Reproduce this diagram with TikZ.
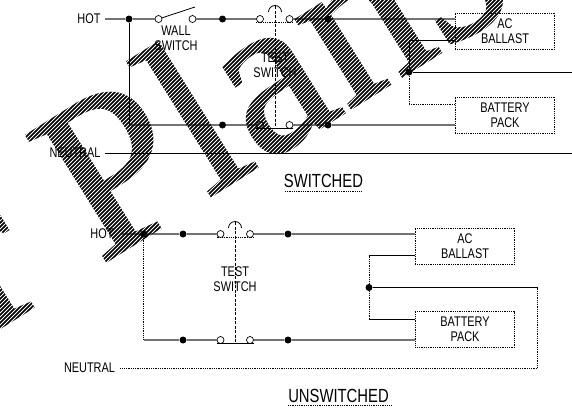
\documentclass[tikz,border=0pt]{standalone}
\usepackage{fontspec}
\setmainfont[FakeStretch=0.78]{Liberation Sans}
\newfontfamily\markfont[FakeBold=1]{Liberation Serif}
\tikzset{
  dot/.style={circle,fill=black,inner sep=0pt,minimum size=7pt},
  term/.style={circle,draw=black,fill=white,line width=0.7pt,inner sep=0pt,minimum size=7pt},
  unit/.style={draw,densely dotted,line width=0.8pt,inner sep=0pt,minimum width=99.5pt,minimum height=36pt,align=center,font=\fontsize{14}{15}\selectfont},
  lbl/.style={inner sep=0pt,align=center,font=\fontsize{14}{15.5}\selectfont},
  ttl/.style={inner sep=0pt,font=\fontsize{19}{20}\selectfont},
  hot/.style={draw=black!55,line width=1.3pt},
  thin/.style={draw=black,line width=0.8pt},
  dots/.style={draw=black,densely dotted,line width=0.8pt},
  link/.style={draw=black,dashed,dash pattern=on 3pt off 1.5pt,line width=0.7pt}
}
\begin{document}
\begin{tikzpicture}[x=1pt,y=-1pt]
  \useasboundingbox (0,0) rectangle (572,413);
  \fill[white] (0,0) rectangle (572,413);

  % switched
  \node[lbl] (hot1) at (89,19) {HOT};
  \node[lbl] (neu1) at (75,153) {NEUTRAL};
  \node[dot] (a1) at (129,19) {};
  \node[term] (s1) at (158.5,19) {};
  \node[term] (s2) at (192.5,19) {};
  \node[dot] (a2) at (222.5,19) {};
  \node[term] (t1) at (260,19) {};
  \node[term] (t2) at (289.5,19) {};
  \node[dot] (a3) at (328,19) {};
  \node[term] (t3) at (260,125) {};
  \node[term] (t4) at (289.5,125) {};
  \node[dot] (b2) at (222.5,125) {};
  \node[dot] (b3) at (328,125) {};
  \node[unit] (ac1) at (505,31) {AC\\BALLAST};
  \node[unit] (bat1) at (505,115) {BATTERY\\PACK};
  \node[dot] (c1) at (409,72) {};
  \node[lbl] (wall) at (176,38) {WALL\\SWITCH};
  \node[lbl] (test1) at (275,65) {TEST\\SWITCH};
  \node[ttl] (sw) at (323.5,181) {SWITCHED};
  \coordinate (w0) at (105,19);
  \coordinate (w1) at (105,153);
  \coordinate (w2) at (572,153);
  \coordinate (w3) at (572,72);
  \coordinate (w4) at (129,125);
  \coordinate (w5) at (195,7);
  \coordinate (w6) at (455.25,19);
  \coordinate (w7) at (455.25,125);
  \coordinate (w8) at (455.25,40.5);
  \coordinate (w9) at (409,40.5);
  \coordinate (w10) at (409,104.5);
  \coordinate (w11) at (455.25,104.5);
  \coordinate (k1) at (275,6);
  \coordinate (k2) at (275,22);
  \coordinate (k3) at (275,128);
  \coordinate (k4) at (256,22);
  \coordinate (k5) at (293,22);
  \coordinate (k6) at (256,128);
  \coordinate (k7) at (293,128);

  \draw[hot] (w0) -- (a1) -- (s1);
  \draw[hot] (s2) -- (a2) -- (t1);
  \draw[hot] (t2) -- (a3) -- (w6);
  \draw[hot] (w4) -- (b2) -- (t3);
  \draw[hot] (t4) -- (b3) -- (w7);
  \draw[thin] (a1) -- (w4);
  \draw[thin] (s1) -- (w5);
  \draw[thin] (w1) -- (w2);
  \draw[thin] (c1) -- (w3);
  \draw[thin] (w8) -- (w9) -- (c1);
  \draw[dots] (c1) -- (w10) -- (w11);
  \draw[link] (k1) -- (k3);
  \draw[dots] (k4) -- (k5);
  \draw[thin] (k6) -- (k7);
  \draw[thin] (268.5,12) arc[start angle=180,end angle=360,radius=6.5];
  \draw[dots] (285,191) -- (362,191);

  % unswitched
  \node[lbl] (hot2) at (102,234) {HOT};
  \node[lbl] (neu2) at (89.5,368) {NEUTRAL};
  \node[dot] (d0) at (143.5,234) {};
  \node[dot] (d1) at (183,234) {};
  \node[term] (u1) at (220.5,234) {};
  \node[term] (u2) at (250,234) {};
  \node[dot] (d2) at (288,234) {};
  \node[dot] (e1) at (183,340) {};
  \node[term] (u3) at (220.5,340) {};
  \node[term] (u4) at (250,340) {};
  \node[dot] (e2) at (288,340) {};
  \node[unit] (ac2) at (465,246) {AC\\BALLAST};
  \node[unit] (bat2) at (465,329.5) {BATTERY\\PACK};
  \node[dot] (c2) at (369,287.5) {};
  \node[lbl] (test2) at (235,279) {TEST\\SWITCH};
  \node[ttl] (un) at (338.5,396) {UNSWITCHED};
  \coordinate (x0) at (122,234);
  \coordinate (x1) at (143.5,340);
  \coordinate (x2) at (415.25,234);
  \coordinate (x3) at (415.25,340);
  \coordinate (x4) at (415.25,255.5);
  \coordinate (x5) at (369,255.5);
  \coordinate (x6) at (369,319.5);
  \coordinate (x7) at (415.25,319.5);
  \coordinate (x8) at (537.5,287.5);
  \coordinate (x9) at (537.5,368);
  \coordinate (x10) at (120,368);
  \coordinate (l1) at (235,222);
  \coordinate (l2) at (235,343);
  \coordinate (l3) at (216.5,237.5);
  \coordinate (l4) at (253.5,237.5);
  \coordinate (l5) at (216.5,343);
  \coordinate (l6) at (253.5,343);

  \draw[hot] (x0) -- (d0) -- (d1) -- (u1);
  \draw[hot] (u2) -- (d2) -- (x2);
  \draw[hot] (x1) -- (e1) -- (u3);
  \draw[hot] (u4) -- (e2) -- (x3);
  \draw[dots] (d0) -- (x1);
  \draw[thin] (x4) -- (x5);
  \draw[dots] (x5) -- (c2) -- (x6);
  \draw[thin] (x6) -- (x7);
  \draw[thin] (c2) -- (x8);
  \draw[dots] (x8) -- (x9) -- (x10);
  \draw[link] (l1) -- (l2);
  \draw[dots] (l3) -- (l4);
  \draw[thin] (l5) -- (l6);
  \draw[thin] (228.5,228) arc[start angle=180,end angle=360,radius=6.5];
  \draw[dots] (288,405) -- (391,405);

  % watermark
  \begin{scope}[blend mode=multiply]
  \begin{scope}[transparency group]
    \clip (0,0) rectangle (572,413);
    \fill[white] (0,0) rectangle (572,413);
    \node[anchor=base west,rotate=32,inner sep=0pt,font=\markfont\fontsize{228}{228}\selectfont] (mark) at (-13,336) {r Plans};
    \foreach \i in {-150,...,300} {
      \draw[white,line width=0.85pt] (4*\i,413) -- (4*\i+413,0);
    }
  \end{scope}
  \end{scope}
\end{tikzpicture}
\end{document}
